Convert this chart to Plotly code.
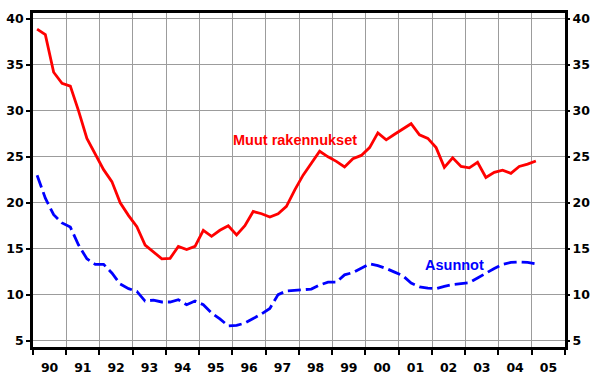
import pandas as pd
import plotly.graph_objects as go

# Quarterly series, 1990Q1 - 2005Q1
quarters = pd.period_range("1990Q1", "2005Q1", freq="Q")

muut_rakennukset = [
    38.9, 38.3, 34.2, 33.0,
    32.7, 30.0, 27.0, 25.3,
    23.6, 22.3, 20.0, 18.6,
    17.4, 15.4, 14.7, 13.9,
    13.95, 15.25, 14.9, 15.25,
    17.0, 16.35, 17.0, 17.5,
    16.5, 17.5, 19.05, 18.8,
    18.45, 18.8, 19.6, 21.4,
    23.0, 24.3, 25.6, 25.0,
    24.5, 23.9, 24.8, 25.15,
    26.0, 27.6, 26.85, 27.45,
    28.0, 28.6, 27.4, 27.0,
    26.0, 23.85, 24.9, 23.95,
    23.8, 24.4, 22.75, 23.3,
    23.55, 23.2, 23.95, 24.2,
    24.55,
]

asunnot = [
    23.0, 20.5, 18.7, 17.8,
    17.35, 15.4, 13.9, 13.3,
    13.3, 12.35, 11.15, 10.65,
    10.35, 9.3, 9.4, 9.2,
    9.2, 9.45, 8.9, 9.3,
    8.9, 8.0, 7.35, 6.6,
    6.65, 6.9, 7.4, 7.9,
    8.5, 10.0, 10.4, 10.45,
    10.5, 10.6, 11.05, 11.35,
    11.35, 12.15, 12.4, 12.9,
    13.35, 13.15, 12.85, 12.45,
    12.05, 11.25, 10.85, 10.7,
    10.65, 10.9, 11.1, 11.2,
    11.3, 11.8, 12.35, 12.85,
    13.3, 13.5, 13.55, 13.5,
    13.35,
]

y_ticks = [5, 10, 15, 20, 25, 30, 35, 40]
y_range = [4.3, 40.65]

# place each quarterly observation in the middle of its quarter
x = [p.start_time + (p.end_time - p.start_time) / 2 for p in quarters]

tick_font = dict(family="DejaVu Sans", size=12.5, color="black", weight="bold")
label_font_family = "Liberation Sans, Arial, sans-serif"

fig = go.Figure()
fig.add_trace(go.Scatter(
    x=x, y=muut_rakennukset, mode="lines", name="Muut rakennukset",
    line=dict(color="#ff0000", width=2.8), yaxis="y",
))
fig.add_trace(go.Scatter(
    x=x, y=asunnot, mode="lines", name="Asunnot",
    line=dict(color="#0000ff", width=2.8, dash="13px,5px"), yaxis="y2",
))

fig.add_annotation(x="1997-11-15", y=26.85, text="<b>Muut rakennukset</b>",
                   showarrow=False, font=dict(family=label_font_family, size=14.5, color="#ff0000"))
fig.add_annotation(x="2002-09-01", y=13.2, text="<b>Asunnot</b>",
                   showarrow=False, font=dict(family=label_font_family, size=14.5, color="#0000ff"))

fig.update_layout(
    width=593, height=374,
    margin=dict(l=33, r=28, t=13, b=27),
    paper_bgcolor="white", plot_bgcolor="white",
    showlegend=False,
    xaxis=dict(
        type="date", range=["1990-01-01", "2006-01-01"],
        tick0="1990-01-01", dtick="M12", tickformat="%y", ticklabelmode="period",
        showgrid=True, gridcolor="#9c9c9c", gridwidth=1,
        showline=True, linecolor="black", linewidth=2.5, mirror=True,
        ticks="outside", ticklen=5, tickwidth=2, tickcolor="black",
        ticklabelstandoff=2, automargin=False,
        tickfont=tick_font,
    ),
    yaxis=dict(
        range=y_range, tickvals=y_ticks,
        showgrid=True, gridcolor="#9c9c9c", gridwidth=1, zeroline=False,
        showline=True, linecolor="black", linewidth=2.5, mirror=True,
        ticks="outside", ticklen=4, tickwidth=2, tickcolor="black",
        automargin=False,
        tickfont=tick_font,
    ),
    yaxis2=dict(
        range=y_range, tickvals=y_ticks, overlaying="y", side="right",
        showgrid=False, zeroline=False, showline=False,
        ticks="outside", ticklen=4, tickwidth=2, tickcolor="black",
        automargin=False,
        tickfont=tick_font,
    ),
)

fig.write_html("out.html")
